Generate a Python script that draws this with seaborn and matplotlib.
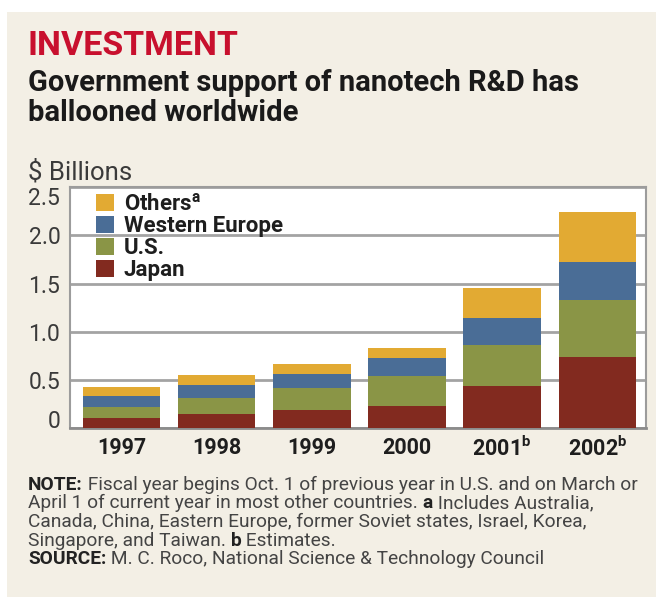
import matplotlib
matplotlib.use("Agg")
import pandas as pd
import matplotlib.pyplot as plt
import seaborn as sns
from matplotlib.patches import Patch, Rectangle

# values ($ billions)
years = ["1997", "1998", "1999", "2000", "2001", "2002"]
year_labels = ["1997", "1998", "1999", "2000", "2001$^{\\mathbf{b}}$", "2002$^{\\mathbf{b}}$"]
japan = [0.103, 0.148, 0.189, 0.234, 0.441, 0.741]
us = [0.121, 0.165, 0.228, 0.310, 0.420, 0.589]
w_europe = [0.110, 0.132, 0.145, 0.183, 0.280, 0.400]
others = [0.096, 0.113, 0.106, 0.107, 0.317, 0.510]

layers = ["Japan", "U.S.", "Western Europe", "Others"]
colors = {"Japan": "#822a1f", "U.S.": "#8a9546", "Western Europe": "#4a6d96", "Others": "#e2aa33"}
legend_labels = {"Others": "Others$^{\\mathbf{a}}$", "Western Europe": "Western Europe",
                 "U.S.": "U.S.", "Japan": "Japan"}

sns.set_theme(style="white")
plt.rcParams["font.family"] = ["Roboto", "DejaVu Sans"]
plt.rcParams["mathtext.fontset"] = "custom"
plt.rcParams["mathtext.rm"] = "Roboto"
plt.rcParams["mathtext.bf"] = "Roboto:bold"
plt.rcParams["mathtext.it"] = "Roboto:italic"

df = pd.DataFrame({"Year": years, "Japan": japan, "U.S.": us,
                   "Western Europe": w_europe, "Others": others})
cum = df[layers].cumsum(axis=1)
cum["Year"] = df["Year"]

W, H = 663, 599
fig = plt.figure(figsize=(W / 100, H / 100), dpi=100, facecolor="white")


def fx(px):
    return px / W


def fy(py):
    return 1 - py / H


# beige panel
fig.add_artist(Rectangle((fx(7.3), fy(597)), fx(656) - fx(7.3), fy(11.7) - fy(597),
                         transform=fig.transFigure, facecolor="#f3efe5",
                         edgecolor="none", zorder=-1))

ax = fig.add_axes([fx(70), fy(428.3), fx(645.7) - fx(70), fy(187.3) - fy(428.3)])
ax.set_facecolor("white")

# stacked bars: draw cumulative totals from tallest to shortest
for layer in reversed(layers):
    sns.barplot(data=cum, x="Year", y=layer, color=colors[layer], width=0.814,
                saturation=1, errorbar=None, linewidth=0, zorder=3, ax=ax)

ax.set_xlim(-0.54, 5.508)
ax.set_ylim(0, 2.5)
ax.set_xlabel("")
ax.set_ylabel("")
ax.set_yticks([0, 0.5, 1.0, 1.5, 2.0, 2.5])
ax.set_yticklabels(["0", "0.5", "1.0", "1.5", "2.0", "2.5"])
ax.set_xticks(range(len(years)))
ax.set_xticklabels(year_labels, fontweight="bold")
ax.yaxis.grid(True, color="#a3a3a3", lw=2)
ax.set_axisbelow(True)
ax.tick_params(axis="y", length=0, pad=7, labelsize=16.5, labelcolor="#3a3a3a")
ax.tick_params(axis="x", length=0, pad=6, labelsize=15.5, labelcolor="#1e1e1e")
for lab in ax.get_yticklabels():
    if lab.get_text() == "0":
        lab.set_va("baseline")
    elif lab.get_text() == "2.5":
        lab.set_va("top")
for side in ["left", "top", "right"]:
    ax.spines[side].set_color("#9c9c9c")
    ax.spines[side].set_linewidth(1.5)
ax.spines["bottom"].set_color("#8c8c8c")
ax.spines["bottom"].set_linewidth(2)

handles = [Patch(facecolor=colors[k], edgecolor="none", label=legend_labels[k])
           for k in ["Others", "Western Europe", "U.S.", "Japan"]]
leg = ax.legend(handles=handles, loc="upper left", bbox_to_anchor=(0.042, 0.985),
                frameon=False, borderpad=0, borderaxespad=0.1, handlelength=0.81,
                handleheight=0.81, handletextpad=0.42, labelspacing=0.0,
                prop={"weight": "bold", "size": 16})
for t in leg.get_texts():
    t.set_color("#1e1e1e")

# titles
title = fig.text(fx(28), fy(55), "INVESTMENT", color="#c8102e", fontsize=25,
                 fontweight="bold", va="baseline")
sub1 = fig.text(fx(28), fy(90.7), "Government support of nanotech R&D has", color="#1a1a1a",
                fontsize=20.5, fontweight="bold", va="baseline")
sub2 = fig.text(fx(28), fy(120.7), "ballooned worldwide", color="#1a1a1a",
                fontsize=20.5, fontweight="bold", va="baseline")
unit = fig.text(fx(28), fy(180), "\\$ Billions", color="#3a3a3a", fontsize=18, va="baseline")

# notes with bold fragments
note_lines = [
    [("NOTE:", True), (" Fiscal year begins Oct. 1 of previous year in U.S. and on March or", False)],
    [("April 1 of current year in most other countries. ", False), ("a", True),
     (" Includes Australia,", False)],
    [("Canada, China, Eastern Europe, former Soviet states, Israel, Korea,", False)],
    [("Singapore, and Taiwan. ", False), ("b", True), (" Estimates.", False)],
    [("SOURCE:", True), (" M. C. Roco, National Science & Technology Council", False)],
]
note_base = [490, 508.5, 527, 545.5, 564]
note_texts = []
for base, parts in zip(note_base, note_lines):
    prev = None
    row = []
    for text, bold in parts:
        kw = dict(fontsize=12.3, fontweight="bold" if bold else "normal",
                  color="#222222" if bold else "#444444")
        if prev is None:
            prev = fig.text(fx(28), fy(base), text, va="baseline", **kw)
        else:
            prev = ax.annotate(text, xy=(1, 0), xycoords=prev, va="bottom", ha="left",
                               annotation_clip=False, **kw)
        row.append(prev)
    note_texts.append(row)


# scale text groups so their widths match the reference's widths
def fit(groups, target_px, members):
    fig.canvas.draw()
    r = fig.canvas.get_renderer()
    total = 0
    for g in groups:
        ext = [t.get_window_extent(r) for t in g]
        total += max(e.x1 for e in ext) - min(e.x0 for e in ext)
    k = target_px / total
    for t in members:
        t.set_fontsize(t.get_fontsize() * k)


fit([[title]], 212, [title])
fit([[sub1], [sub2]], 548 + 274, [sub1, sub2])
fit([[unit]], 104, [unit])
fit([note_texts[0]], 610, [t for row in note_texts for t in row])

fig.savefig("out.png", dpi=100, facecolor="white")
